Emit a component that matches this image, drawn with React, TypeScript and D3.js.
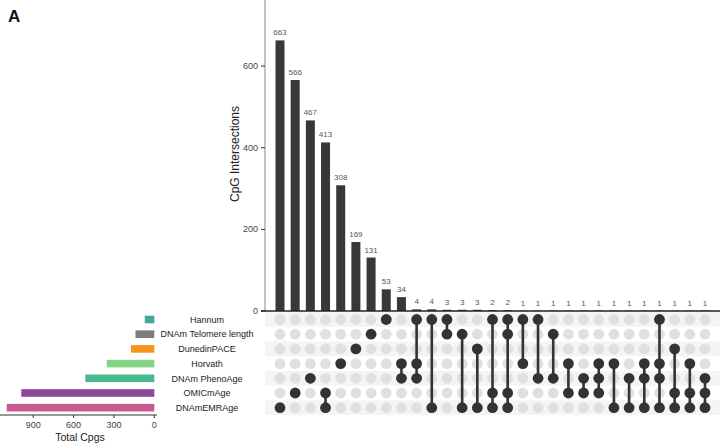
import React from "react";
import * as d3 from "d3";

const sets = ["Hannum", "DNAm Telomere length", "DunedinPACE", "Horvath", "DNAm PhenoAge", "OMICmAge", "DNAmEMRAge"];
const setColors = ["#45a6a0", "#7d7d7d", "#f7931e", "#84d488", "#48b98c", "#8e479b", "#c85a90"];

const intersectionSizes = [663, 566, 467, 413, 308, 169, 131, 53, 34, 4, 4, 3, 3, 3, 2, 2, 1, 1, 1, 1, 1, 1, 1, 1, 1, 1, 1, 1, 1];
const intersectionMembers: string[][] = [
  ["DNAmEMRAge"],
  ["OMICmAge"],
  ["DNAm PhenoAge"],
  ["OMICmAge", "DNAmEMRAge"],
  ["Horvath"],
  ["DunedinPACE"],
  ["DNAm Telomere length"],
  ["Hannum"],
  ["Horvath", "DNAm PhenoAge"],
  ["Hannum", "Horvath", "DNAm PhenoAge"],
  ["Hannum", "DNAmEMRAge"],
  ["Hannum", "DNAm Telomere length"],
  ["DNAm Telomere length", "DNAmEMRAge"],
  ["DunedinPACE", "DNAmEMRAge"],
  ["Hannum", "OMICmAge", "DNAmEMRAge"],
  ["Hannum", "DNAm Telomere length", "OMICmAge", "DNAmEMRAge"],
  ["Hannum", "Horvath"],
  ["Hannum", "DNAm PhenoAge"],
  ["DNAm Telomere length", "DNAm PhenoAge"],
  ["Horvath", "OMICmAge"],
  ["DNAm PhenoAge", "OMICmAge"],
  ["Horvath", "DNAm PhenoAge", "OMICmAge"],
  ["Horvath", "DNAmEMRAge"],
  ["DNAm PhenoAge", "DNAmEMRAge"],
  ["Horvath", "DNAm PhenoAge", "DNAmEMRAge"],
  ["Hannum", "Horvath", "DNAm PhenoAge", "DNAmEMRAge"],
  ["DunedinPACE", "OMICmAge", "DNAmEMRAge"],
  ["Horvath", "OMICmAge", "DNAmEMRAge"],
  ["DNAm PhenoAge", "OMICmAge", "DNAmEMRAge"],
];
const yTicks = [0, 200, 400, 600];
const setTicks = [0, 300, 600, 900];

const FONT = "'Liberation Sans', Arial, Helvetica, sans-serif";

export default function App() {
  const W = 720, H = 444;
  const cols = intersectionSizes.map((_, i) => i);
  const x = d3.scalePoint<number>().domain(cols).range([280, 705]);
  const y = d3.scaleLinear().domain([0, 762]).range([311, 0]);
  const row = d3.scalePoint<string>().domain(sets).range([319.5, 407.7]);
  const setSizes = sets.map((s) =>
    d3.sum(intersectionSizes.filter((_, i) => intersectionMembers[i].includes(s)))
  );
  const sx = d3.scaleLinear().domain([0, 1150]).range([154.3, -0.4]);
  const barW = 9;
  const rowStep = row.step();

  return (
    <svg width={W} height={H} style={{ position: "absolute", left: 0, top: 0, background: "#fff" }} fontFamily={FONT}>
      <rect x={0} y={0} width={W} height={H} fill="#fff" />
      <text x={8} y={22} fontSize={17} fontWeight="bold" fill="#111">A</text>

      {/* stripes */}
      {sets.map((s, i) =>
        i % 2 === 0 ? (
          <rect key={"st" + s} x={265} y={(row(s) as number) - rowStep / 2} width={W - 265} height={rowStep} fill="#f4f4f4" />
        ) : null
      )}

      {/* top bars */}
      {intersectionSizes.map((v, i) => (
        <g key={"b" + i}>
          <rect x={(x(i) as number) - barW / 2} y={y(v)} width={barW} height={y(0) - y(v)} fill="#383838" />
          <text x={x(i) as number} y={y(v) - 5} fontSize={8} textAnchor="middle" fill="#555">{v}</text>
        </g>
      ))}
      {/* y axis */}
      <line x1={265} x2={265} y1={0} y2={y(0)} stroke="#8a8a8a" strokeWidth={1} />
      {yTicks.map((t) => (
        <g key={"yt" + t}>
          <line x1={261} x2={265} y1={y(t)} y2={y(t)} stroke="#333" />
          <text x={258} y={y(t) + 3} fontSize={9} textAnchor="end" fill="#444">{t}</text>
        </g>
      ))}
      <line x1={261} x2={W} y1={y(0)} y2={y(0)} stroke="#222" strokeWidth={1.3} />
      <text transform={`translate(239,154) rotate(-90)`} fontSize={12} textAnchor="middle" fill="#222">CpG Intersections</text>

      {/* matrix */}
      {cols.map((i) => {
        const members = intersectionMembers[i];
        const ys = members.map((m) => row(m) as number);
        const cx = x(i) as number;
        return (
          <g key={"m" + i}>
            {sets.map((s) => (
              <circle key={s} cx={cx} cy={row(s) as number} r={5.4} fill={members.includes(s) ? "#333" : "#e0e0e0"} />
            ))}
            {ys.length > 1 && (
              <line x1={cx} x2={cx} y1={d3.min(ys)} y2={d3.max(ys)} stroke="#333" strokeWidth={2.6} />
            )}
          </g>
        );
      })}

      {/* set names */}
      {sets.map((s) => (
        <text key={"n" + s} x={207} y={(row(s) as number) + 3.2} fontSize={9} textAnchor="middle" fill="#222">{s}</text>
      ))}

      {/* set size bars */}
      {sets.map((s, i) => (
        <rect key={"sb" + s} x={sx(setSizes[i])} y={(row(s) as number) - 3.8} width={sx(0) - sx(setSizes[i])} height={7.6} fill={setColors[i]} />
      ))}
      <line x1={0} x2={157} y1={415} y2={415} stroke="#333" strokeWidth={1} />
      {setTicks.map((t) => (
        <g key={"st" + t}>
          <line x1={sx(t)} x2={sx(t)} y1={415} y2={418} stroke="#333" />
          <text x={sx(t)} y={428} fontSize={9} textAnchor="middle" fill="#444">{t}</text>
        </g>
      ))}
      <text x={80} y={441} fontSize={10.5} textAnchor="middle" fill="#222">Total Cpgs</text>
    </svg>
  );
}
